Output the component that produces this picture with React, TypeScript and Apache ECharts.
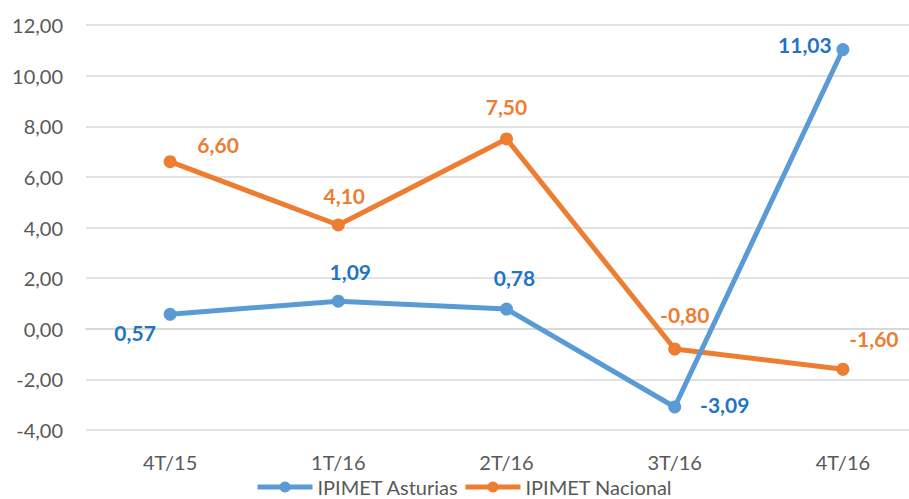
import React, { useEffect, useRef } from "react";
import * as echarts from "echarts";

const categories = ["4T/15", "1T/16", "2T/16", "3T/16", "4T/16"];
const asturias = [0.57, 1.09, 0.78, -3.09, 11.03];
const nacional = [6.6, 4.1, 7.5, -0.8, -1.6];
const seriesNames = ["IPIMET Asturias", "IPIMET Nacional"];

const fmt = (v: number) => v.toFixed(2).replace(".", ",");

const astLabelOffsets: number[][] = [
  [-35, 18],
  [12, -30],
  [8, -32],
  [50, -2],
  [-38, -5],
];
const nacLabelOffsets: number[][] = [
  [48, -17],
  [6, -29],
  [0, -32],
  [10, -35],
  [31, -31],
];

export default function App() {
  const ref = useRef<HTMLDivElement>(null);
  useEffect(() => {
    const chart = echarts.init(ref.current!, null, { renderer: "svg" });
    const font = "Lato, 'Noto Sans', sans-serif";
    const mk = (vals: number[], offs: number[][], labelColor: string) =>
      vals.map((v, i) => ({
        value: v,
        label: {
          show: true,
          position: "inside",
          offset: offs[i],
          align: "center",
          verticalAlign: "middle",
          color: labelColor,
          fontWeight: "bold",
          fontSize: 21,
          fontFamily: font,
          formatter: (p: any) => fmt(p.value),
        },
      }));
    chart.setOption({
      animation: false,
      backgroundColor: "#ffffff",
      textStyle: { fontFamily: font },
      grid: { left: 86, width: 841, top: 25, height: 405, containLabel: false },
      legend: {
        data: seriesNames,
        top: 472,
        left: 250,
        itemWidth: 55,
        itemHeight: 14,
        itemGap: 4,
        lineStyle: { width: 5 },
        textStyle: { color: "#595959", fontSize: 20, fontFamily: font },
      },
      xAxis: {
        type: "category",
        data: categories,
        axisLine: { lineStyle: { color: "#d9d9d9", width: 2 } },
        axisTick: { show: false },
        axisLabel: { color: "#595959", fontSize: 20, margin: 22, fontFamily: font },
      },
      yAxis: {
        type: "value",
        min: -4,
        max: 12,
        interval: 2,
        axisLine: { show: false },
        axisTick: { show: false },
        axisLabel: {
          color: "#595959",
          fontSize: 20,
          margin: 23,
          fontFamily: font,
          formatter: (v: number) => fmt(v),
        },
        splitLine: { lineStyle: { color: "#d9d9d9", width: 1.5 } },
      },
      series: [
        {
          name: seriesNames[0],
          type: "line",
          data: mk(asturias, astLabelOffsets, "#1f74c4"),
          symbol: "circle",
          symbolSize: 13,
          lineStyle: { color: "#5b9bd5", width: 5 },
          itemStyle: { color: "#5b9bd5" },
          z: 3,
        },
        {
          name: seriesNames[1],
          type: "line",
          data: mk(nacional, nacLabelOffsets, "#ed7d31"),
          symbol: "circle",
          symbolSize: 13,
          lineStyle: { color: "#ed7d31", width: 5 },
          itemStyle: { color: "#ed7d31" },
          z: 2,
        },
      ],
    });
    return () => chart.dispose();
  }, []);
  return (
    <div style={{ width: 909, height: 499, position: "absolute", left: 0, top: 0, overflow: "hidden" }}>
      <div ref={ref} style={{ width: 930, height: 499 }} />
    </div>
  );
}
